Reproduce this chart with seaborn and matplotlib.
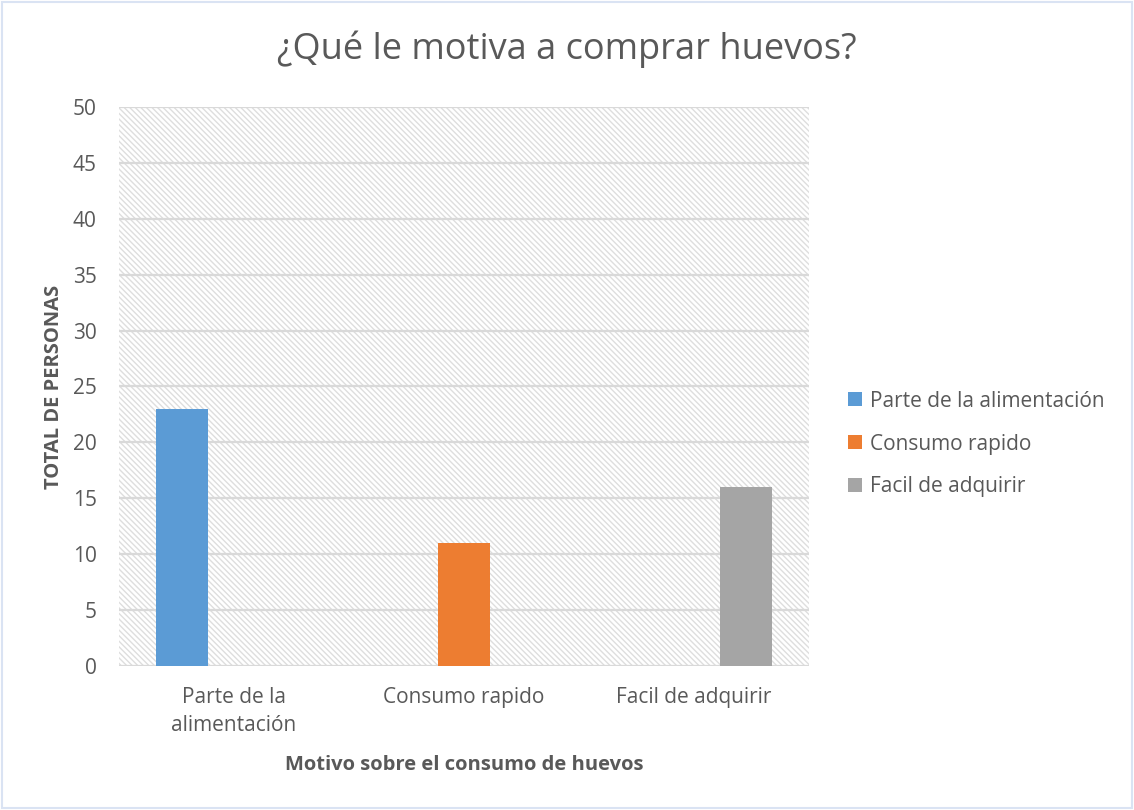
import pandas as pd
import seaborn as sns
import matplotlib.pyplot as plt
from matplotlib.patches import Rectangle, Patch

# --- datos ---
categorias = ["Parte de la alimentación", "Consumo rapido", "Facil de adquirir"]
etiquetas_x = ["Parte de la\nalimentación", "Consumo rapido", "Facil de adquirir"]
valores = [23, 11, 16]
colores = ["#5b9bd5", "#ed7d31", "#a5a5a5"]
y_ticks = [0, 5, 10, 15, 20, 25, 30, 35, 40, 45, 50]

df = pd.DataFrame({"Motivo": categorias, "Serie": categorias, "Total": valores})

sns.set_theme(style="white")
plt.rcParams['font.family'] = ['Open Sans', 'DejaVu Sans']
plt.rcParams['hatch.linewidth'] = 1.0
gris = "#595959"

fig = plt.figure(figsize=(11.34, 8.1), dpi=100)
ax = fig.add_axes([0.1049, 0.1778, 0.6085, 0.6901])

# fondo rayado
fondo = Rectangle((0, 0), 1, 1, transform=ax.transAxes, facecolor="white",
                  edgecolor="#dedede", hatch="\\" * 6, linewidth=0, zorder=0)
ax.add_patch(fondo)

sns.barplot(data=df, x="Motivo", y="Total", hue="Serie", order=categorias,
            hue_order=categorias, palette=colores, width=0.68, dodge=True,
            saturation=1, ax=ax, zorder=3, edgecolor="none", linewidth=0, legend=False)

ax.set_ylim(0, 50)
ax.set_yticks(y_ticks)
ax.set_xlim(-0.5, 2.5)
ax.set_xticks(range(3))
ax.set_xticklabels(etiquetas_x, fontsize=15, color=gris, linespacing=1.45)
ax.tick_params(axis='y', labelsize=15, labelcolor=gris, length=0, pad=16)
ax.tick_params(axis='x', length=0, pad=15)
for t in y_ticks:
    ax.axhline(t, color="#d9d9d9", linewidth=1.6, zorder=1)
for s in ax.spines.values():
    s.set_visible(False)

ax.set_ylabel("TOTAL DE PERSONAS", fontsize=14.5, fontweight='bold', color=gris, labelpad=6)
ax.set_xlabel("Motivo sobre el consumo de huevos", fontsize=14.5, fontweight='bold', color=gris, labelpad=14)
fig.suptitle("¿Qué le motiva a comprar huevos?", x=0.5, y=0.962, fontsize=26, color=gris)

handles = [Patch(facecolor=c, edgecolor="none") for c in colores]
leg = ax.legend(handles, categorias, loc="center left", bbox_to_anchor=(1.03, 0.397), frameon=False,
                fontsize=15, handlelength=0.65, handleheight=0.65, handletextpad=0.4,
                labelspacing=1.05)
for txt in leg.get_texts():
    txt.set_color(gris)

fig.patches.append(Rectangle((0.002, 0.002), 0.996, 0.996, transform=fig.transFigure,
                             fill=False, edgecolor="#dae3f3", linewidth=1.5))

plt.savefig("out.png", dpi=100)
plt.close()
